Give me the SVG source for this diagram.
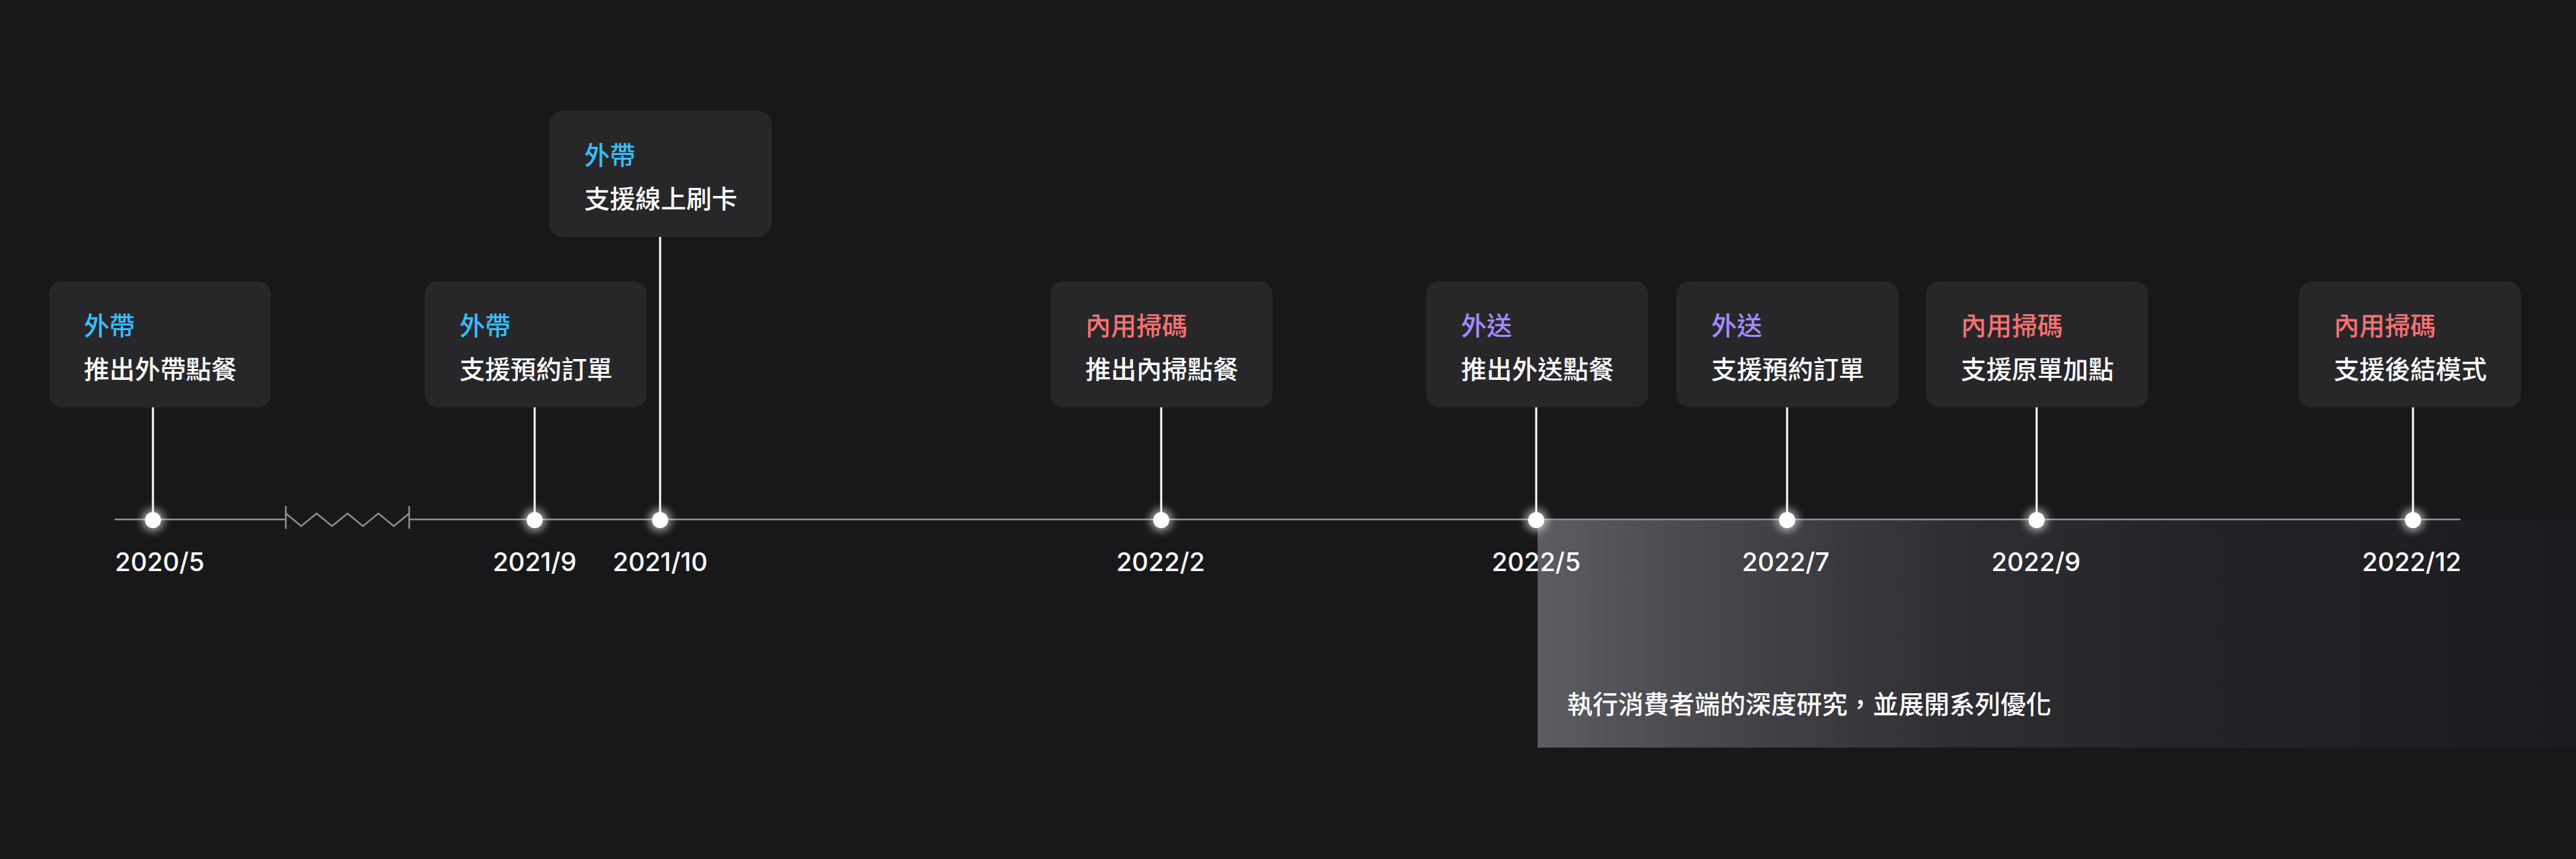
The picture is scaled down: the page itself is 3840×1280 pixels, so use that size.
<svg xmlns="http://www.w3.org/2000/svg" width="3840" height="1280" viewBox="0 0 3840 1280">
<defs>
<style>
.bg{fill:#18181b}
.card{fill:#27272a}
.tag{font-family:"Noto Sans CJK TC","Noto Sans CJK SC",sans-serif;font-size:38px;font-weight:500}
.body{font-family:"Noto Sans CJK TC","Noto Sans CJK SC",sans-serif;font-size:38px;font-weight:500;fill:#ffffff}
.blue{fill:#38bdf8}
.red{fill:#f87171}
.violet{fill:#a78bfa}
.date{font-family:Inter,"Noto Sans",sans-serif;font-size:38px;font-weight:500;fill:#ffffff;text-anchor:middle}
.axis{stroke:#8e8e93;stroke-width:2.5;fill:none}
.conn{stroke:#ffffff;stroke-width:3}
.dot{fill:#ffffff}
.glow{fill:#ffffff;opacity:0.55;filter:url(#blur)}
</style>
<filter id="blur" x="-100%" y="-100%" width="300%" height="300%">
<feGaussianBlur stdDeviation="6"/>
</filter>
<linearGradient id="fade" x1="0" y1="0" x2="1" y2="0">
<stop offset="0" stop-color="#5c5c62"/>
<stop offset="0.18" stop-color="#45454b"/>
<stop offset="0.4" stop-color="#2e2e33"/>
<stop offset="0.65" stop-color="#232327"/>
<stop offset="1" stop-color="#1c1c20"/>
</linearGradient>
</defs>
<rect class="bg" x="0" y="0" width="3840" height="1280"/>

<g id="research">
<rect x="2292" y="775" width="1548" height="339" fill="url(#fade)"/>
<text class="body" x="2336" y="1063">執行消費者端的深度研究，並展開系列優化</text>
</g>

<g id="connectors">
<line class="axis" x1="171" y1="774" x2="426" y2="774"/>
<line class="axis" x1="610" y1="774" x2="3668" y2="774"/>
<polyline class="axis" points="426,765 449,784 472,765 495,784 518,765 541,784 564,765 587,784 610,765"/>
<line class="axis" x1="426" y1="754" x2="426" y2="788"/>
<line class="axis" x1="610" y1="754" x2="610" y2="788"/>
<line class="conn" x1="228" y1="607" x2="228" y2="774"/>
<line class="conn" x1="797" y1="607" x2="797" y2="774"/>
<line class="conn" x1="984" y1="353" x2="984" y2="774"/>
<line class="conn" x1="1731" y1="607" x2="1731" y2="774"/>
<line class="conn" x1="2290" y1="607" x2="2290" y2="774"/>
<line class="conn" x1="2664" y1="607" x2="2664" y2="774"/>
<line class="conn" x1="3036" y1="607" x2="3036" y2="774"/>
<line class="conn" x1="3597" y1="607" x2="3597" y2="774"/>
</g>

<g id="dots">
<circle class="glow" cx="228" cy="775" r="17"/><circle class="dot" cx="228" cy="775" r="12"/>
<circle class="glow" cx="797" cy="775" r="17"/><circle class="dot" cx="797" cy="775" r="12"/>
<circle class="glow" cx="984" cy="775" r="17"/><circle class="dot" cx="984" cy="775" r="12"/>
<circle class="glow" cx="1731" cy="775" r="17"/><circle class="dot" cx="1731" cy="775" r="12"/>
<circle class="glow" cx="2290" cy="775" r="17"/><circle class="dot" cx="2290" cy="775" r="12"/>
<circle class="glow" cx="2664" cy="775" r="17"/><circle class="dot" cx="2664" cy="775" r="12"/>
<circle class="glow" cx="3036" cy="775" r="17"/><circle class="dot" cx="3036" cy="775" r="12"/>
<circle class="glow" cx="3597" cy="775" r="17"/><circle class="dot" cx="3597" cy="775" r="12"/>
</g>

<g id="dates">
<text class="date" x="238" y="851">2020/5</text>
<text class="date" x="797" y="851">2021/9</text>
<text class="date" x="984" y="851">2021/10</text>
<text class="date" x="1730" y="851">2022/2</text>
<text class="date" x="2290" y="851">2022/5</text>
<text class="date" x="2662" y="851">2022/7</text>
<text class="date" x="3035" y="851">2022/9</text>
<text class="date" x="3595" y="851">2022/12</text>
</g>

<g id="node-2020-5">
<rect class="card" x="73" y="419" width="331" height="188" rx="20"/>
<text class="tag blue" x="125" y="499">外帶</text>
<text class="body" x="125" y="564">推出外帶點餐</text>
</g>
<g id="node-2021-9">
<rect class="card" x="633" y="419" width="331" height="188" rx="20"/>
<text class="tag blue" x="685" y="499">外帶</text>
<text class="body" x="685" y="564">支援預約訂單</text>
</g>
<g id="node-2021-10">
<rect class="card" x="819" y="165" width="331" height="188" rx="20"/>
<text class="tag blue" x="871" y="245">外帶</text>
<text class="body" x="871" y="310">支援線上刷卡</text>
</g>
<g id="node-2022-2">
<rect class="card" x="1566" y="419" width="331" height="188" rx="20"/>
<text class="tag red" x="1618" y="499">內用掃碼</text>
<text class="body" x="1618" y="564">推出內掃點餐</text>
</g>
<g id="node-2022-5">
<rect class="card" x="2126" y="419" width="331" height="188" rx="20"/>
<text class="tag violet" x="2178" y="499">外送</text>
<text class="body" x="2178" y="564">推出外送點餐</text>
</g>
<g id="node-2022-7">
<rect class="card" x="2499" y="419" width="331" height="188" rx="20"/>
<text class="tag violet" x="2551" y="499">外送</text>
<text class="body" x="2551" y="564">支援預約訂單</text>
</g>
<g id="node-2022-9">
<rect class="card" x="2871" y="419" width="331" height="188" rx="20"/>
<text class="tag red" x="2923" y="499">內用掃碼</text>
<text class="body" x="2923" y="564">支援原單加點</text>
</g>
<g id="node-2022-12">
<rect class="card" x="3427" y="419" width="331" height="188" rx="20"/>
<text class="tag red" x="3479" y="499">內用掃碼</text>
<text class="body" x="3479" y="564">支援後結模式</text>
</g>
</svg>
